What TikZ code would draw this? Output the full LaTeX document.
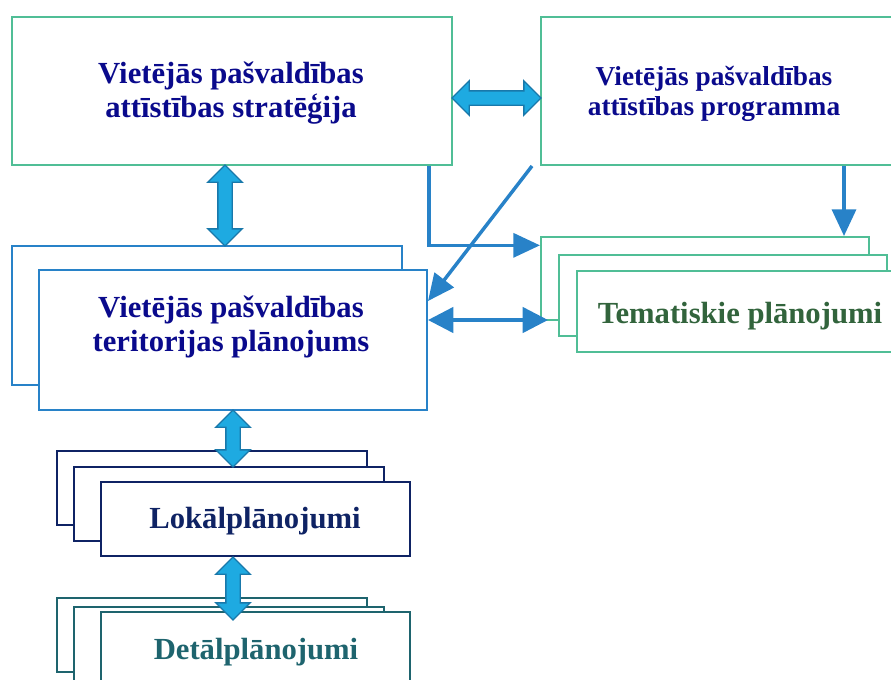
\documentclass[tikz,border=0pt]{standalone}
\usepackage{fontspec}
\setmainfont{Liberation Serif}
\usetikzlibrary{arrows.meta,shapes.arrows}
\definecolor{boxgreen}{RGB}{80,190,150}
\definecolor{boxblue}{RGB}{40,130,200}
\definecolor{textnavy}{RGB}{10,10,140}
\definecolor{loknavy}{RGB}{15,35,100}
\definecolor{detteal}{RGB}{30,100,110}
\definecolor{temagreen}{RGB}{50,100,60}
\definecolor{fatfill}{RGB}{30,170,225}
\definecolor{fatdark}{RGB}{25,120,170}
\definecolor{thinblue}{RGB}{40,130,200}

\begin{document}
\begin{tikzpicture}[x=0.75pt,y=-0.75pt,
  box/.style={draw,fill=white,line width=1.5pt,inner sep=0pt},
  bigtext/.style={font=\bfseries\fontsize{23}{25.5}\selectfont,align=center},
  fatarrow/.style={double arrow,draw=fatdark,fill=fatfill,line width=1pt,inner xsep=0pt,inner ysep=4.875pt,
    double arrow head extend=7.5pt},
  thinarrow/.style={draw=thinblue,line width=2.6pt,-{Triangle[length=20pt,width=18pt]}},
  thinboth/.style={draw=thinblue,line width=2.6pt,{Triangle[length=19pt,width=19pt]}-{Triangle[length=19pt,width=19pt]}}]
\useasboundingbox (0,0) rectangle (891,679);

% top boxes
\node[box,draw=boxgreen,minimum width=330pt,minimum height=111pt] (strat) at (232,91) {};
\node[bigtext,text=textnavy] (strattext) at (231,93.5) {Vietējās pašvaldības\\attīstības stratēģija};
\node[box,draw=boxgreen,minimum width=273pt,minimum height=111pt] (prog) at (723,91) {};
\node[font=\bfseries\fontsize{20.5}{22.5}\selectfont,align=center,text=textnavy] (progtext) at (714,94)
  {Vietējās pašvaldības\\attīstības programma};

% territory plan, two sheets
\node[box,draw=boxblue,minimum width=292.5pt,minimum height=104.25pt] (terb) at (207,315.5) {};
\node[box,draw=boxblue,minimum width=291pt,minimum height=105pt] (terf) at (233,340) {};
\node[bigtext,text=textnavy] (tertext) at (231,327) {Vietējās pašvaldības\\teritorijas plānojums};

% thematic plans
\node[box,draw=boxgreen,minimum width=246pt,minimum height=62.25pt] (tema1) at (705,278.5) {};
\node[box,draw=boxgreen,minimum width=246pt,minimum height=60.75pt] (tema2) at (723,295.5) {};
\node[box,draw=boxgreen,minimum width=246pt,minimum height=60.75pt] (tema3) at (741,311.5) {};
\node[bigtext,text=temagreen,anchor=base] (tematext) at (740,323) {Tematiskie plānojumi};

% local plans
\node[box,draw=loknavy,minimum width=232.5pt,minimum height=55.5pt] (lok1) at (212,488) {};
\node[box,draw=loknavy,minimum width=232.5pt,minimum height=55.5pt] (lok2) at (229,504) {};
\node[box,draw=loknavy,minimum width=231.75pt,minimum height=55.5pt] (lok3) at (255.5,519) {};
\node[bigtext,text=loknavy,anchor=base] (loktext) at (255,528) {Lokālplānojumi};

% detail plans
\node[box,draw=detteal,minimum width=232.5pt,minimum height=55.5pt] (det1) at (212,635) {};
\node[box,draw=detteal,minimum width=232.5pt,minimum height=69.75pt] (det2) at (229,653.5) {};
\node[box,draw=detteal,minimum width=231.75pt,minimum height=73.5pt] (det3) at (255.5,661) {};
\node[bigtext,text=detteal,anchor=base] (dettext) at (256,659) {Detālplānojumi};

% fat arrows
\node[fatarrow,minimum height=66.75pt] (fa1) at (496.5,98) {};
\node[fatarrow,minimum height=60.75pt,rotate=90] (fa2) at (225,205.5) {};
\node[fatarrow,minimum height=42.75pt,rotate=90] (fa3) at (233,438.5) {};
\node[fatarrow,minimum height=47.25pt,rotate=90] (fa4) at (233,588.5) {};

% thin arrows
\draw[thinarrow] ([xshift=-18pt]strat.south east) |- ([yshift=-7pt]tema1.north west);
\draw[thinarrow] ([xshift=-6pt]prog.south west) -- ([yshift=29.25pt]terf.east);
\coordinate (progtip) at ([xshift=-19.5pt]tema1.north east);
\draw[thinarrow] (prog.south -| progtip) -- (progtip);
\coordinate (terright) at ([yshift=15pt]terf.east);
\draw[thinboth,shorten >=7.5pt] (terright) -- (terright -| tema2.west);
\end{tikzpicture}
\end{document}
